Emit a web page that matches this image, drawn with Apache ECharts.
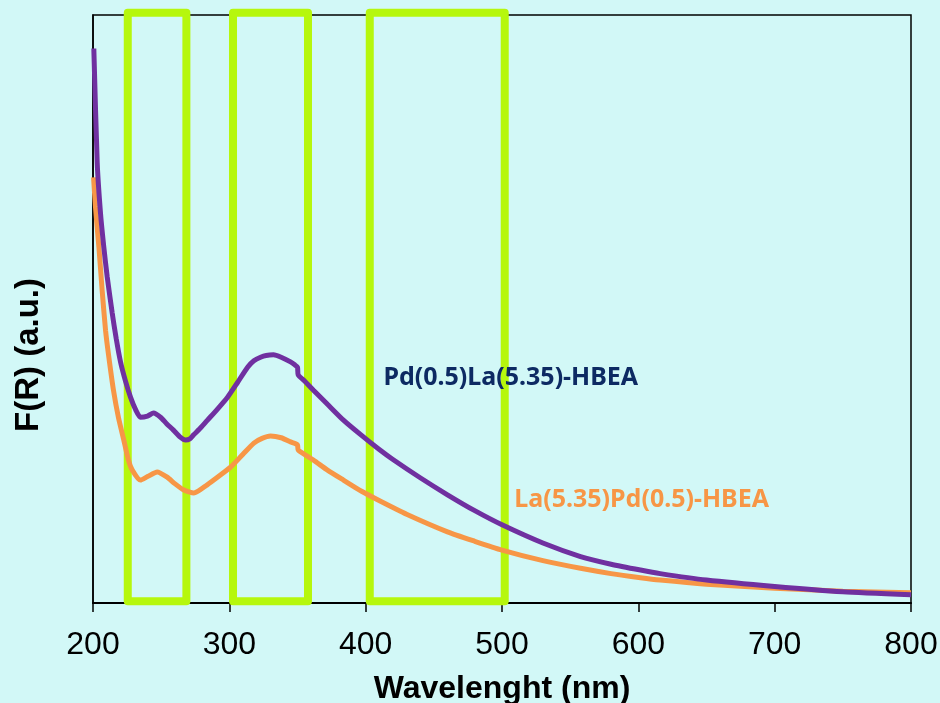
<!DOCTYPE html>
<html>
<head>
<meta charset="utf-8">
<title>F(R) spectra</title>
<script src="https://cdn.jsdelivr.net/npm/echarts@6.0.0/dist/echarts.min.js"></script>
<style>
	html, body { margin: 0; padding: 0; background: #d2f8f7; }
	#chart { width: 940px; height: 703px; }
</style>
</head>
<body>
<div id="chart"></div>
<script>
// ===========================================  data
var xTicks = [200, 300, 400, 500, 600, 700, 800];

// Pd(0.5)La(5.35)-HBEA (purple)
var purpleNm  = [200.6, 203.1, 205.5, 207.9, 210.4, 214.1, 217, 220.2, 224, 227.5, 231, 234.8, 240, 244.4, 249.5, 254, 259, 264, 267.9, 271, 273.8, 279, 284, 291, 298.7, 306, 313.4, 318, 322.9, 327, 332.4, 338, 344.9, 348, 350, 350.5, 355, 361.7, 372, 383.7, 397, 410, 420, 440, 460, 480, 500, 530, 557.6, 580, 601.6, 616, 650, 700, 750, 800];
var purpleVal = [94.3, 74.8, 66.3, 60.6, 55.5, 49.3, 45.0, 41.0, 37.6, 35.0, 33.0, 31.6, 31.8, 32.3, 31.6, 30.5, 29.4, 28.2, 27.7, 27.9, 28.6, 29.8, 31.1, 32.9, 35.0, 37.5, 40.1, 41.2, 41.8, 42.1, 42.2, 41.8, 41.0, 40.5, 40.1, 38.8, 37.8, 36.2, 33.8, 31.1, 28.5, 26.1, 24.4, 21.3, 18.4, 15.7, 13.3, 10.2, 7.9, 6.6, 5.6, 5.0, 3.9, 2.8, 1.9, 1.4];

// La(5.35)Pd(0.5)-HBEA (orange)
var orangeNm  = [200.4, 201.8, 204.3, 206.7, 209.2, 211.4, 215, 218.7, 222.6, 226, 228.8, 234.8, 240, 247.1, 254.4, 260, 266.7, 274, 283.8, 292, 300.9, 310, 318, 324, 330.2, 338, 344.9, 350, 350.5, 361.7, 372, 383.7, 397, 410.9, 430, 460, 480, 500, 530, 557.6, 580, 601.6, 616, 650, 700, 750, 800];
var orangeVal = [72.4, 67.4, 60.6, 53.2, 46.4, 42.2, 36.2, 31.5, 27.7, 24.3, 22.6, 20.9, 21.5, 22.3, 21.4, 20.3, 19.2, 18.7, 20.1, 21.5, 23.1, 25.3, 27.2, 28.0, 28.4, 28.1, 27.4, 26.9, 26.0, 24.3, 22.6, 20.9, 19.0, 17.3, 15.1, 12.1, 10.5, 9.0, 7.2, 5.9, 5.0, 4.3, 3.9, 3.2, 2.5, 2.0, 1.75];

// green highlight boxes (nm edges, value range)
var boxLeft   = [225.5, 302.7, 403];
var boxRight  = [268.5, 357.7, 502];
var boxBottom = 0.3;
var boxTop    = 100.4;

var seriesNames = ['Pd(0.5)La(5.35)-HBEA', 'La(5.35)Pd(0.5)-HBEA'];

// ===========================================  build
function pairs(xs, ys) {
	var out = [];
	for (var i = 0; i < xs.length; i++) out.push([xs[i], ys[i]]);
	return out;
}
var boxData = [];
for (var i = 0; i < boxLeft.length; i++) {
	boxData.push([boxLeft[i], boxBottom], [boxLeft[i], boxTop], [boxRight[i], boxTop],
		[boxRight[i], boxBottom], [boxLeft[i], boxBottom], '-');
}

var myChart = echarts.init(document.getElementById('chart'));
var option = {
	backgroundColor: '#d2f8f7',
	animation: false,
	grid: {
		left: 93, right: 29, top: 15, bottom: 100,
		show: true, borderColor: '#000', borderWidth: 1.5,
		outerBoundsMode: 'none'
	},
	xAxis: {
		type: 'value',
		min: 200, max: 800, interval: 100,
		name: 'Wavelenght (nm)',
		nameLocation: 'middle',
		nameGap: 70,
		nameTextStyle: { fontFamily: 'Liberation Sans', fontWeight: 'bold', fontSize: 32, color: '#000' },
		axisLine: { lineStyle: { color: '#000', width: 2 } },
		axisTick: { show: true, inside: false, length: 9, lineStyle: { color: '#000', width: 1.5 } },
		axisLabel: {
			margin: 26, fontFamily: 'Liberation Sans', fontSize: 32, color: '#000',
			formatter: function (v) { return xTicks.indexOf(v) >= 0 ? String(v) : ''; }
		},
		splitLine: { show: false }
	},
	yAxis: {
		type: 'value',
		min: 0, max: 100,
		axisLine: { show: true, lineStyle: { color: '#000', width: 1.5 } },
		axisTick: { show: false },
		axisLabel: { show: false },
		splitLine: { show: false }
	},
	graphic: [{
		type: 'text',
		x: 29, y: 355,
		rotation: Math.PI / 2,
		style: {
			text: 'F(R) (a.u.)',
			font: 'bold 33px "Liberation Sans"',
			fill: '#000',
			textAlign: 'center',
			textVerticalAlign: 'middle'
		}
	}],
	series: [
		{
			name: 'boxes',
			type: 'line',
			data: boxData,
			symbol: 'none',
			clip: false,
			connectNulls: false,
			z: 1,
			lineStyle: { color: '#b6f70d', width: 8, join: 'round', cap: 'round' }
		},
		{
			name: seriesNames[1],
			type: 'line',
			data: pairs(orangeNm, orangeVal),
			symbol: 'none',
			smooth: 0.2,
			z: 3,
			lineStyle: { color: '#f79646', width: 5 },
			markPoint: {
				symbol: 'circle', symbolSize: 0,
				data: [{ coord: [509, 17.5] }],
				label: {
					show: true, position: 'right', distance: 0,
					formatter: seriesNames[1],
					fontFamily: 'Noto Sans', fontWeight: 'bold', fontSize: 25, color: '#f79646'
				}
			}
		},
		{
			name: seriesNames[0],
			type: 'line',
			data: pairs(purpleNm, purpleVal),
			symbol: 'none',
			smooth: 0.2,
			z: 4,
			lineStyle: { color: '#7030a0', width: 5 },
			markPoint: {
				symbol: 'circle', symbolSize: 0,
				data: [{ coord: [413, 38.3] }],
				label: {
					show: true, position: 'right', distance: 0,
					formatter: seriesNames[0],
					fontFamily: 'Noto Sans', fontWeight: 'bold', fontSize: 25, color: '#0d2a63'
				}
			}
		}
	]
};
myChart.setOption(option);
</script>
</body>
</html>
